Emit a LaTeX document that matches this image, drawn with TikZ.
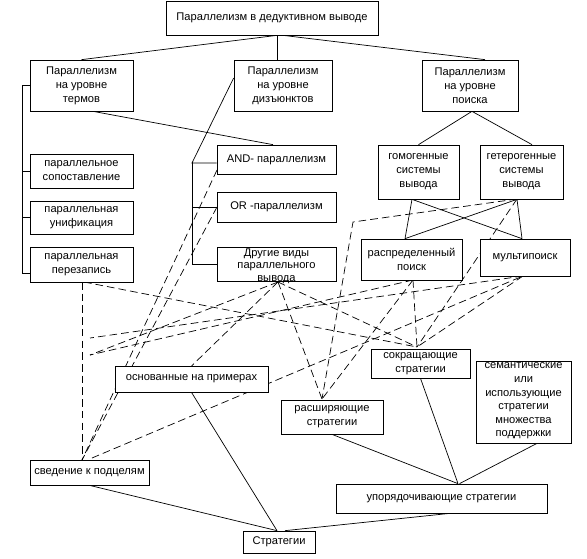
\documentclass[tikz,border=0pt]{standalone}
\usepackage{fontspec}
\setmainfont{Liberation Sans}
\usetikzlibrary{calc}
\newlength\pu
\setlength\pu{0.03cm}

\begin{document}
\begin{tikzpicture}[x=\pu, y=-\pu, line width=0.6pt,
    box/.style={draw, fill=white, inner sep=0pt, align=center},
    txt/.style={inner sep=0pt, align=center},
    link/.style={dash pattern=on 6.5pt off 3.5pt}]
    \useasboundingbox (0,0) rectangle (587,558);
    \fontsize{9.5}{12}\selectfont

    % dashed links first, boxes cover them
    \coordinate (sg) at (82,460);
    \coordinate (vmid) at (90,355);
    \coordinate (vup) at (90,338);
    \coordinate (bend) at (353,222);
    \coordinate (oc) at (278,282);
    \coordinate (rc) at (417,347);
    \coordinate (ec) at (322,399);
    \coordinate (dc) at (413,280);
    \coordinate (mc) at (523,276);
    \coordinate (hc) at (517,199);
    \draw[link] (82,282) -- (sg);
    \draw[link] (217,170) -- (sg);
    \draw[link] (217,207) -- (sg);
    \draw[link] (84,282) -- (rc);
    \draw[link] (oc) -- (vmid);
    \draw[link] (oc) -- (191.5,366);
    \draw[link] (oc) -- (rc);
    \draw[link] (oc) -- (ec);
    \draw[link] (dc) -- (vmid);
    \draw[link] (dc) -- (rc);
    \draw[link] (dc) -- (ec);
    \draw[link] (mc) -- (vup);
    \draw[link] (mc) -- (rc);
    \draw[link] (hc) -- (rc);
    \draw[link] (hc) -- (bend) -- (ec);
    \draw[link] (92,458) -- (mc);

    % boxes
    \node[box, minimum width=212\pu, minimum height=34\pu] (top) at (272,18) {Параллелизм в дедуктивном выводе};
    \node[box, minimum width=103\pu, minimum height=51\pu] (term) at (81.5,85.5) {Параллелизм\\на уровне\\термов};
    \node[box, minimum width=98\pu, minimum height=51\pu] (disj) at (283,85.5) {Параллелизм\\на уровне\\дизъюнктов};
    \node[box, minimum width=96\pu, minimum height=51\pu] (search) at (470,85.5) {Параллелизм\\на уровне\\поиска};
    \node[box, minimum width=103\pu, minimum height=34\pu] (match) at (81.5,171) {параллельное\\сопоставление};
    \node[box, minimum width=103\pu, minimum height=33\pu] (unif) at (81.5,217.5) {параллельная\\унификация};
    \node[box, minimum width=103\pu, minimum height=35\pu] (rewrite) at (81.5,264.5) {параллельная\\перезапись};
    \node[box, minimum width=119\pu, minimum height=29\pu] (and) at (276.5,159.5) {AND- параллелизм};
    \node[box, minimum width=119\pu, minimum height=30\pu] (or) at (276.5,207) {OR -параллелизм};
    \node[box, minimum width=119\pu, minimum height=34\pu] (other) at (276.5,264) {};
    \node[txt, font=\fontsize{9.5}{10.8}\selectfont] (othertxt) at (276.5,266) {Другие виды\\параллельного\\вывода};
    \node[box, minimum width=81\pu, minimum height=54\pu] (homog) at (418.5,172) {гомогенные\\системы\\вывода};
    \node[box, minimum width=83\pu, minimum height=54\pu] (heter) at (521.5,172) {гетерогенные\\системы\\вывода};
    \node[box, minimum width=101\pu, minimum height=41\pu] (distr) at (411.5,259.5) {распределенный\\поиск};
    \node[box, minimum width=90\pu, minimum height=37\pu] (multi) at (525,257.5) {мультипоиск};
    \node[box, minimum width=99\pu, minimum height=29\pu] (reduce) at (420.5,363.5) {сокращающие\\стратегии};
    \node[box, minimum width=102\pu, minimum height=34\pu] (extend) at (332,417) {расширяющие\\стратегии};
    \node[box, minimum width=95\pu, minimum height=82\pu] (semantic) at (523.5,402) {};
    \node[txt, font=\fontsize{9.5}{11.6}\selectfont] (semtxt) at (523.5,401) {семантические\\или\\использующие\\стратегии\\множества\\поддержки};
    \node[box, minimum width=153\pu, minimum height=26\pu] (examples) at (191.5,379) {основанные на примерах};
    \node[box, minimum width=119\pu, minimum height=25\pu] (subgoal) at (89.5,472.5) {сведение к подцелям};
    \node[box, minimum width=211\pu, minimum height=29\pu] (order) at (441.5,498.5) {упорядочивающие  стратегии};
    \node[box, minimum width=72\pu, minimum height=22\pu] (strat) at (279,542) {Стратегии};

    % solid links
    \draw ($(top.south)+(5,0)$) -- (term.north);
    \draw ($(top.south)+(5,0)$) -- ($(disj.north)+(-6,0)$);
    \draw ($(top.south)+(11,0)$) -- ($(search.north)+(15,0)$);
    \draw (term.west) -- ++(-7.3,0) coordinate (lt) |- ($(rewrite.west)+(0,8.5)$);
    \draw (lt |- match.west) -- (match.west);
    \draw (lt |- unif.west) -- (unif.west);
    \draw ($(term.south)+(11.5,0)$) -- ($(and.north)+(-3.5,0)$);
    \coordinate (mt) at (192,163);
    \draw ($(disj.west)+(0,-7.5)$) -- (mt) -- (mt -| and.west);
    \draw (mt) |- (other.west);
    \draw (mt |- or.west) -- (or.west);
    \draw ($(search.south)+(2,0)$) -- (homog.north);
    \draw ($(search.south)+(2,0)$) -- ($(heter.north)+(10.5,0)$);
    \draw ($(homog.south)+(-6.5,0)$) -- ($(distr.north)+(-6.5,0)$);
    \draw ($(homog.south)+(-6.5,0)$) -- ($(multi.north)+(-3,0)$);
    \draw ($(heter.south)+(-4.5,0)$) -- ($(distr.north)+(-6.5,0)$);
    \draw ($(heter.south)+(-4.5,0)$) -- ($(multi.north)+(-3,0)$);
    \draw (examples.south) -- ($(strat.north)+(-2,0)$);
    \draw (subgoal.south) -- ($(strat.north)+(-2,0)$);
    \draw ($(order.south)+(8.5,0)$) -- ($(strat.north)+(6,0)$);
    \draw (extend.south) -- ($(order.north)+(16.5,0)$);
    \draw (reduce.south) -- ($(order.north)+(16.5,0)$);
    \draw ($(semantic.south)+(13.5,0)$) -- ($(order.north)+(18,0)$);
\end{tikzpicture}
\end{document}
